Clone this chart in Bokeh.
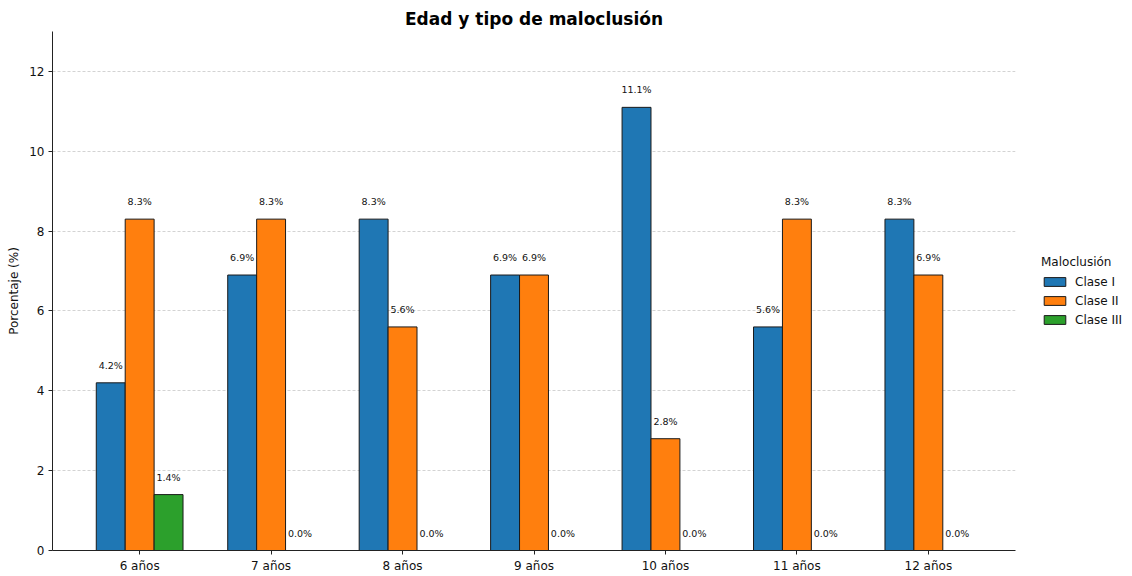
from bokeh.plotting import figure
from bokeh.models import ColumnDataSource, FixedTicker, Legend, LegendItem, Range1d
from bokeh.transform import dodge
from bokeh.core.properties import value
from bokeh.embed import file_html
from bokeh.resources import INLINE

ages = ["6 años", "7 años", "8 años", "9 años", "10 años", "11 años", "12 años"]
clase_i = [4.2, 6.9, 8.3, 6.9, 11.1, 5.6, 8.3]
clase_ii = [8.3, 8.3, 5.6, 6.9, 2.8, 8.3, 6.9]
clase_iii = [1.4, 0.0, 0.0, 0.0, 0.0, 0.0, 0.0]
series_names = ["Clase I", "Clase II", "Clase III"]
colors = ["#1f77b4", "#ff7f0e", "#2ca02c"]
y_ticks = [0, 2, 4, 6, 8, 10, 12]

FONT = "DejaVu Sans"
bw = 0.22
xs = list(range(len(ages)))

p = figure(frame_width=963, frame_height=519, output_backend="svg", toolbar_location=None,
           x_range=Range1d(-0.663, 6.663), y_range=Range1d(0, 13),
           min_border_left=52, min_border_right=0, min_border_top=31, min_border_bottom=20)

p.title.text = "Edad y tipo de maloclusión"
p.title.align = "center"
p.title.text_font = FONT
p.title.text_font_size = "17px"
p.title.text_font_style = "bold"
p.title.text_color = "#000000"
p.title.standoff = 6

renderers = []
for j, (name, vals, col) in enumerate(zip(series_names, [clase_i, clase_ii, clase_iii], colors)):
    src = ColumnDataSource(dict(x=xs, top=vals, lab=[f"{v:.1f}%" for v in vals]))
    off = (j - 1) * bw
    r = p.vbar(x=dodge("x", off), top="top", width=bw, bottom=0, source=src,
               fill_color=col, line_color="#1a1a1a", line_width=1)
    renderers.append(r)
    p.text(x=dodge("x", off), y="top", text="lab", source=src,
           text_align="center", text_baseline="bottom", y_offset=-12,
           text_font=value(FONT), text_font_size="9.5px", text_color="#111111")

legend = Legend(items=[LegendItem(label=n, renderers=[r]) for n, r in zip(series_names, renderers)],
                location="center_left", title="Maloclusión")
legend.title_text_font = FONT
legend.title_text_font_size = "12px"
legend.title_text_font_style = "normal"
legend.title_text_color = "#111111"
legend.title_standoff = 6
legend.label_text_font = FONT
legend.label_text_font_size = "12px"
legend.label_text_color = "#111111"
legend.glyph_width = 27
legend.glyph_height = 11
legend.label_height = 12
legend.label_standoff = 7
legend.spacing = 5
legend.padding = 4
legend.margin = 26
legend.border_line_color = None
legend.background_fill_alpha = 0
p.add_layout(legend, "right")

p.xaxis.ticker = FixedTicker(ticks=xs)
p.xaxis.major_label_overrides = {i: a for i, a in enumerate(ages)}
p.yaxis.ticker = FixedTicker(ticks=y_ticks)
for ax in (p.xaxis, p.yaxis):
    ax.minor_tick_line_color = None
    ax.major_tick_in = 0
    ax.major_tick_out = 4
    ax.axis_line_color = "#222222"
    ax.major_tick_line_color = "#222222"
    ax.major_label_text_font = FONT
    ax.major_label_text_font_size = "12px"
    ax.major_label_text_color = "#111111"
    ax.major_label_standoff = 4
p.yaxis.axis_label = "Porcentaje (%)"
p.yaxis.axis_label_text_font = FONT
p.yaxis.axis_label_text_font_size = "12px"
p.yaxis.axis_label_text_font_style = "normal"
p.yaxis.axis_label_text_color = "#111111"
p.yaxis.axis_label_standoff = 5

p.xgrid.grid_line_color = None
p.ygrid.grid_line_color = "#b0b0b0"
p.ygrid.grid_line_dash = "3 2"
p.ygrid.grid_line_width = 0.7
p.ygrid.grid_line_alpha = 0.8
p.outline_line_color = None

open("out.html", "w").write(file_html(p, INLINE))
